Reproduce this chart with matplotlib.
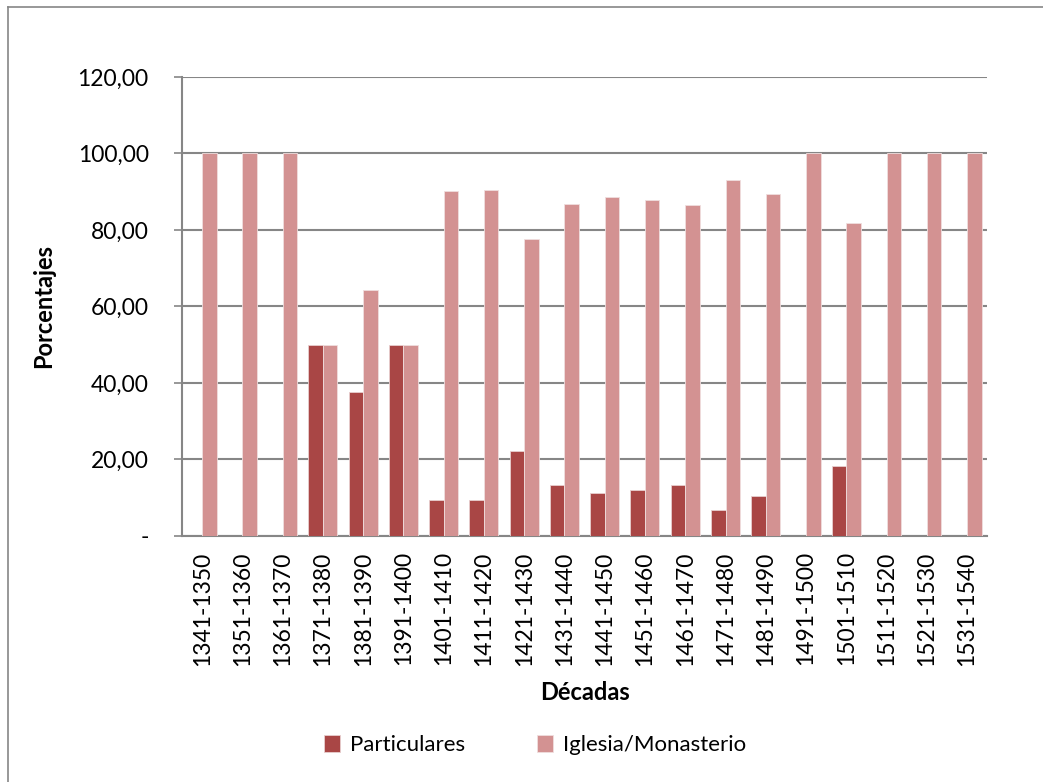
import matplotlib.pyplot as plt
import numpy as np

# Datos por década
decadas = ["1341-1350", "1351-1360", "1361-1370", "1371-1380", "1381-1390",
           "1391-1400", "1401-1410", "1411-1420", "1421-1430", "1431-1440",
           "1441-1450", "1451-1460", "1461-1470", "1471-1480", "1481-1490",
           "1491-1500", "1501-1510", "1511-1520", "1521-1530", "1531-1540"]
particulares = [0, 0, 0, 50.0, 37.6, 50.0, 9.4, 9.3, 22.2, 13.2,
                11.2, 11.9, 13.4, 6.7, 10.4, 0, 18.2, 0, 0, 0]
iglesia = [100, 100, 100, 50.0, 64.2, 50.0, 90.3, 90.5, 77.7, 86.8,
           88.5, 87.9, 86.4, 93.1, 89.4, 100, 81.7, 100, 100, 100]
yticks = [0, 20, 40, 60, 80, 100, 120]
ytick_labels = ["-", "20,00", "40,00", "60,00", "80,00", "100,00", "120,00"]

plt.rcParams['font.family'] = ['Lato', 'DejaVu Sans']
fs_tick = 16.5
fs_label = 17
fs_leg = 16

fig = plt.figure(figsize=(10.43, 7.82), dpi=100)
ax = fig.add_axes([0.1745, 0.3146, 0.772, 0.587])

x = np.arange(len(decadas))
w = 0.36
ax.bar(x - w / 2, particulares, w, color="#A94645", edgecolor="#E8CFCF",
       linewidth=0.6, label="Particulares", zorder=3)
ax.bar(x + w / 2, iglesia, w, color="#D39292", edgecolor="#F0DEDE",
       linewidth=0.6, label="Iglesia/Monasterio", zorder=3)

ax.set_xlim(-0.5, len(decadas) - 0.5)
ax.set_ylim(0, 120)
ax.set_yticks(yticks)
ax.set_yticklabels(ytick_labels, fontsize=fs_tick)
ax.set_xticks(x)
ax.set_xticklabels(decadas, rotation=90, fontsize=fs_tick)
ax.tick_params(axis="x", length=0, pad=11)
ax.tick_params(axis="y", length=6, color="#868686", width=1.2, pad=18)

ax.yaxis.grid(True, color="#868686", linewidth=1.5, zorder=0)
for s in ["top", "right"]:
    ax.spines[s].set_visible(False)
for s in ["left", "bottom"]:
    ax.spines[s].set_color("#868686")
    ax.spines[s].set_linewidth(1.5)

ax.set_ylabel("Porcentajes", fontsize=fs_label, fontweight="bold")
ax.set_xlabel("Décadas", fontsize=fs_label, fontweight="bold")
ax.yaxis.set_label_coords(-0.157, 0.5)
ax.xaxis.set_label_coords(0.5, -0.315)

fig.legend(loc="center", bbox_to_anchor=(0.513, 0.047), ncol=2, frameon=False,
           fontsize=fs_leg, handlelength=0.75, handleheight=0.75, columnspacing=3.2,
           handletextpad=0.45)

# marco exterior del gráfico
fig.add_artist(plt.Line2D([0.008, 0.008], [0.0, 0.991], color="#868686", linewidth=1.2))
fig.add_artist(plt.Line2D([0.008, 1.0], [0.991, 0.991], color="#868686", linewidth=1.2))

plt.savefig("out.png", dpi=100)
